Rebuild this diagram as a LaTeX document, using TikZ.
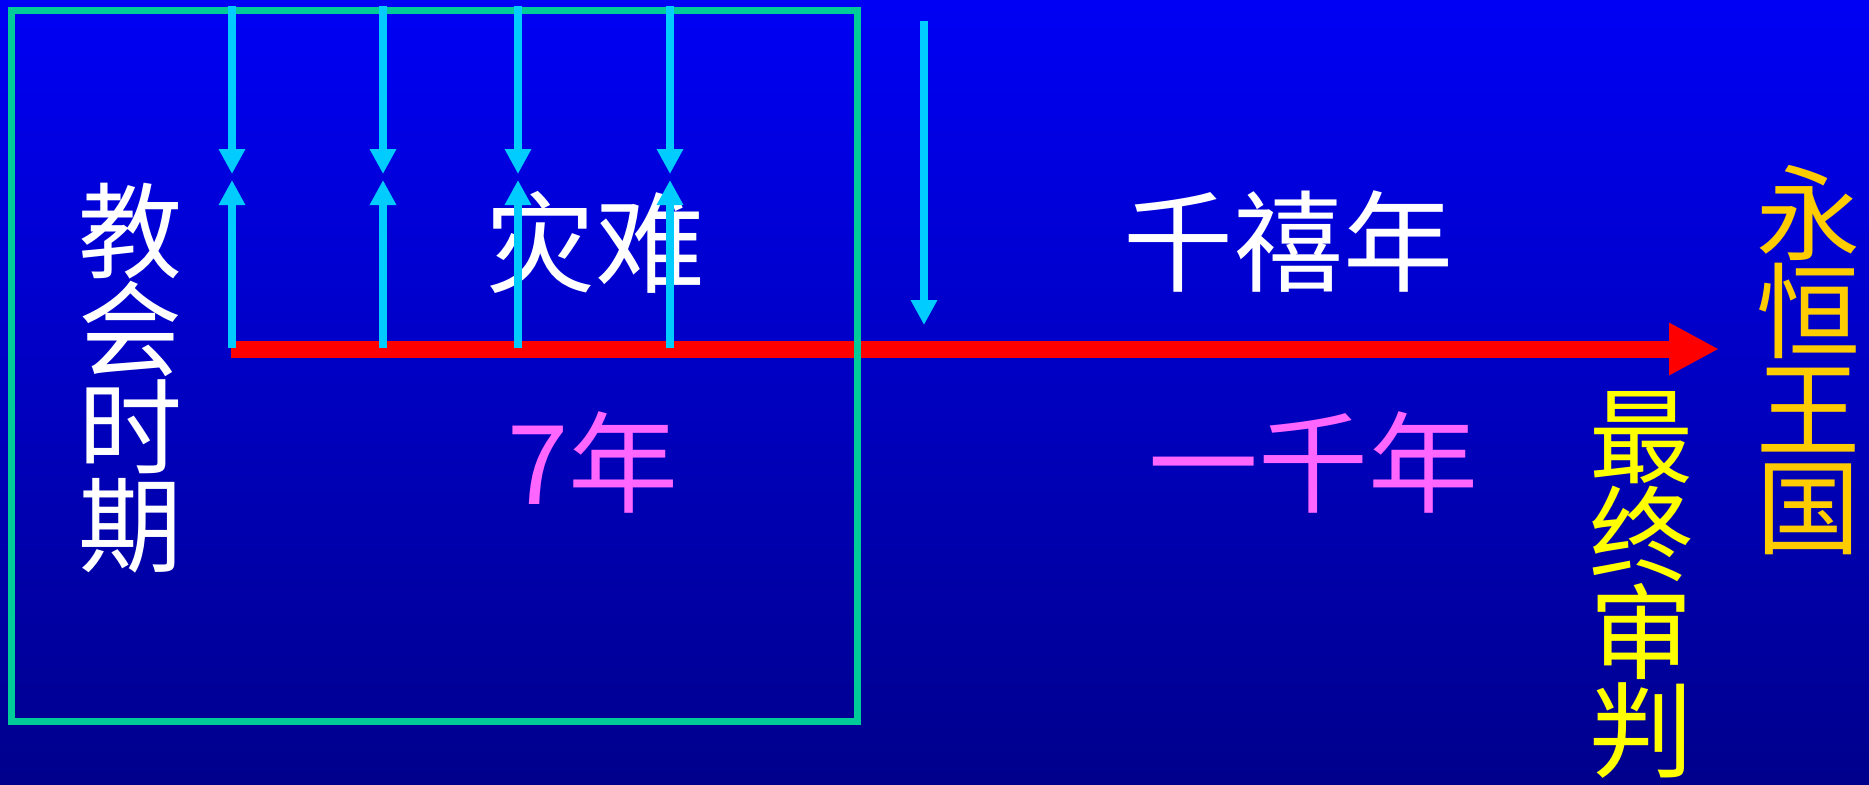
\documentclass[tikz,border=0pt]{standalone}
\usepackage{fontspec}
\newfontfamily\cjk{Noto Sans CJK SC}
\usetikzlibrary{arrows.meta}
\definecolor{bgtop}{RGB}{0,0,245}
\definecolor{bgbot}{RGB}{0,0,140}
\definecolor{cyanarr}{RGB}{0,204,255}
\definecolor{boxgreen}{RGB}{0,204,153}
\definecolor{pinktxt}{RGB}{255,102,255}
\definecolor{goldtxt}{RGB}{255,204,0}
\definecolor{yeltxt}{RGB}{255,255,0}
\begin{document}
\begin{tikzpicture}[x=0.5pt,y=-0.5pt,
  vtext/.style={inner sep=0pt, align=center, font=\cjk\fontsize{52pt}{49pt}\selectfont},
  htext/.style={inner sep=0pt, font=\cjk\fontsize{55pt}{60pt}\selectfont},
  tickarrow/.style={draw=cyanarr, line width=4pt, -{Triangle[length=12.5pt,width=12.5pt]}},
  timeline/.style={draw=red, line width=8.5pt, -{Triangle[length=25pt,width=24.5pt]}},
  frame/.style={draw=boxgreen, line width=3.5pt}
]
\useasboundingbox (0,0) rectangle (1869,784);
\shade[top color=bgtop, bottom color=bgbot] (0,0) rectangle (1869,784);

% timeline
\coordinate (rs) at (231,349);
\coordinate (re) at (1719,349);
\draw[timeline] (rs) -- (re);

% church age frame
\coordinate (fa) at (11,10);
\coordinate (fb) at (857,721);
\draw[frame] (fa) rectangle (fb);

% texts
\node[vtext, white] (church) at (130,378) {教\\会\\时\\期};
\node[htext, white] (trib) at (595,242) {灾难};
\node[htext, white] (mill) at (1288,242) {千禧年};
\node[htext, pinktxt] (seven) at (593,462) {7年};
\node[htext, pinktxt] (thousand) at (1313,462) {一千年};
\node[vtext, yeltxt] (judg) at (1641,585) {最\\终\\审\\判};
\node[vtext, goldtxt] (kingdom) at (1808,360) {永\\恒\\王\\国};

% cyan arrows
\foreach \i/\x in {1/232,2/383,3/518,4/670}{
  \coordinate (t\i) at (\x,6);
  \coordinate (d\i) at (\x,174);
  \coordinate (u\i) at (\x,180);
  \coordinate (b\i) at (\x,348);
  \draw[tickarrow] (t\i) -- (d\i);
  \draw[tickarrow] (b\i) -- (u\i);
}
\coordinate (t5) at (924,21);
\coordinate (d5) at (924,325);
\draw[tickarrow] (t5) -- (d5);
\end{tikzpicture}
\end{document}
